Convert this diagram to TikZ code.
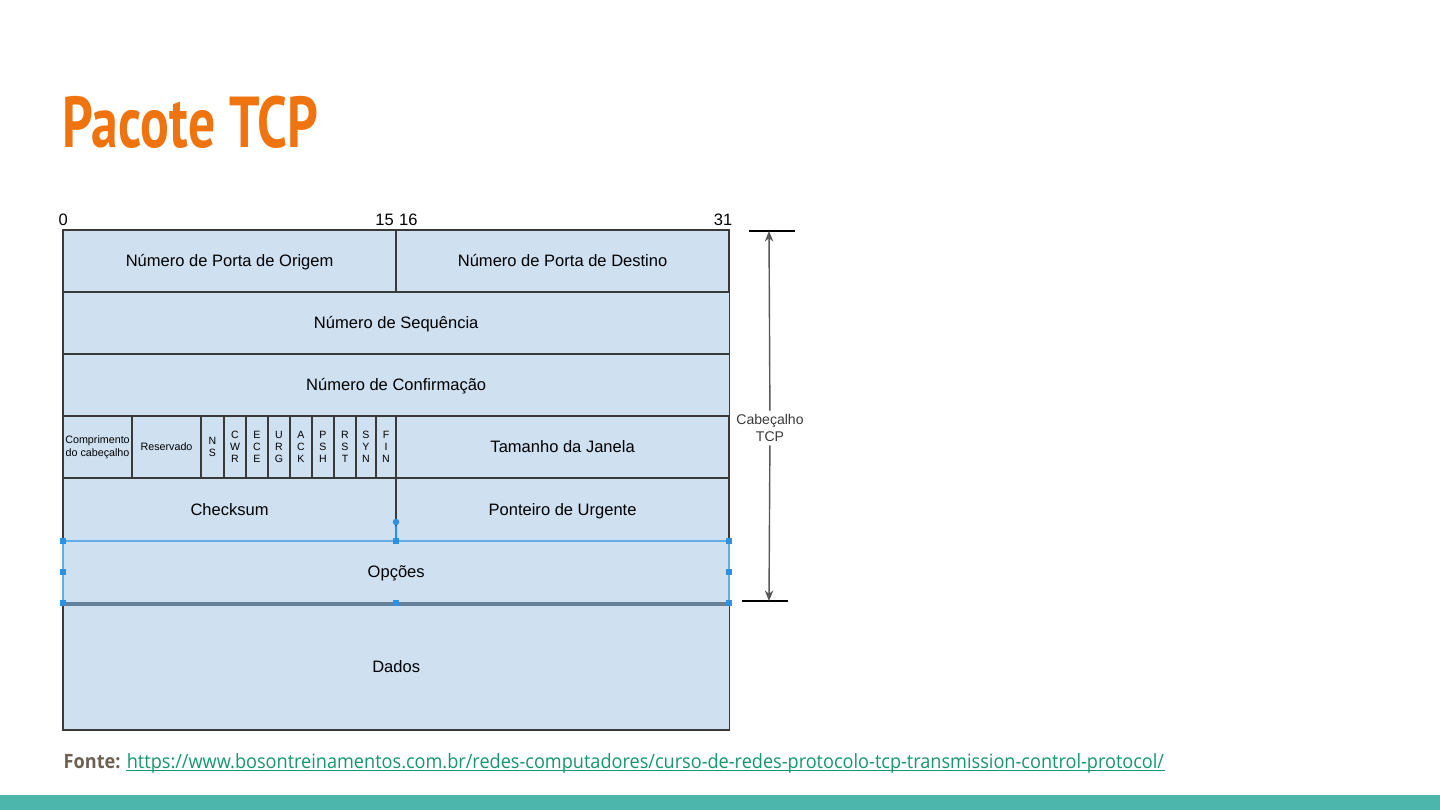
\documentclass[tikz,border=0pt]{standalone}
\usepackage{fontspec}
\setmainfont{Liberation Sans}
\newfontfamily\titulofont[FakeStretch=0.745]{PT Sans}
\newfontfamily\rodapefont[FakeStretch=0.92]{Open Sans}
\usepackage{tikz}
\usetikzlibrary{arrows.meta,positioning,calc}

\definecolor{laranja}{HTML}{EF7410}
\definecolor{celula}{HTML}{CFE0F1}
\definecolor{linha}{HTML}{3A3A3A}
\definecolor{selecao}{HTML}{2E90E0}
\definecolor{selbase}{HTML}{66809A}
\definecolor{turquesa}{HTML}{4DB6AC}
\definecolor{fonte}{HTML}{6D6152}
\definecolor{link}{HTML}{16966C}

\tikzset{
    campo/.style={draw=linha, fill=celula, line width=0.45pt, anchor=north west,
        inner sep=0pt, outer sep=0pt, text height=3.37pt, text depth=0pt,
        font=\fontsize{4.7}{5.5}\selectfont},
    campop/.style={campo, align=center, text height=, text depth=, font=\fontsize{3.05}{3.6}\selectfont},
    flagcel/.style={campo, align=center, text height=, text depth=, font=\fontsize{3.0}{3.42}\selectfont},
    bitnum/.style={inner sep=0pt, font=\fontsize{4.7}{5.5}\selectfont},
    alca/.style={fill=selecao, inner sep=0pt, minimum size=0.06cm},
}

\begin{document}
\begin{tikzpicture}[x=0.01cm, y=-0.01cm]
    \useasboundingbox (0,0) rectangle (1440,810);

    % Title
    \node[anchor=base west, inner sep=0pt, text=laranja, font=\fontsize{20.5}{24}\selectfont\titulofont\bfseries]
        (titulo) at (62,148) {Pacote TCP};

    % Bit numbers
    \node[bitnum, anchor=base west] (b0) at (58,226) {0};
    \node[bitnum, anchor=base east] (b15) at (394.5,226) {15};
    \node[bitnum, anchor=base west] (b16) at (398.5,226) {16};
    \node[bitnum, anchor=base east] (b31) at (733,226) {31};

    % Header fields
    \node[campo, minimum width=3.33cm, minimum height=0.62cm] (origem) at (63,230) {Número de Porta de Origem};
    \node[campo, minimum width=3.33cm, minimum height=0.62cm] (destino) at (396,230) {Número de Porta de Destino};
    \node[campo, minimum width=6.66cm, minimum height=0.62cm] (sequencia) at (63,292) {Número de Sequência};
    \node[campo, minimum width=6.66cm, minimum height=0.62cm] (confirmacao) at (63,354) {Número de Confirmação};
    \node[campop, minimum width=0.69cm, minimum height=0.62cm] (comprimento) at (63,416) {Comprimento\\do cabeçalho};
    \node[campop, minimum width=0.69cm, minimum height=0.62cm] (reservado) at (132,416) {Reservado};
    \foreach \x/\w/\t in {201/23/{N\\S}, 224/22/{C\\W\\R}, 246/22/{E\\C\\E}, 268/22/{U\\R\\G},
        290/22/{A\\C\\K}, 312/22/{P\\S\\H}, 334/22/{R\\S\\T}, 356/20/{S\\Y\\N}, 376/20/{F\\I\\N}}
        \node[flagcel, minimum width=\w*0.01cm, minimum height=0.62cm] (flag\x) at (\x,416) {\t};
    \node[campo, minimum width=3.33cm, minimum height=0.62cm] (janela) at (396,416) {Tamanho da Janela};
    \node[campo, minimum width=3.33cm, minimum height=0.63cm] (checksum) at (63,478) {Checksum};
    \node[campo, minimum width=3.33cm, minimum height=0.63cm] (urgente) at (396,478) {Ponteiro de Urgente};
    \node[campo, minimum width=6.66cm, minimum height=0.62cm] (opcoes) at (63,541) {Opções};
    \node[campo, minimum width=6.66cm, minimum height=1.27cm] (dados) at (63,603) {Dados};

    % Selection frame around Opcoes
    \draw[selecao!75, line width=0.6pt] (opcoes.north west) rectangle (opcoes.south east);
    \draw[selbase, line width=1.1pt] ($(opcoes.south west)+(0,1)$) -- ($(opcoes.south east)+(0,1)$);
    \node[alca, circle, minimum size=0.065cm] (rot) at (396,522) {};
    \draw[selecao, line width=0.6pt] (rot) -- (opcoes.north);
    \foreach \a in {north west, north, north east, west, east, south west, south, south east}
        \node[alca] at (opcoes.\a) {};

    % Header dimension
    \coordinate (topo) at (769,231);
    \coordinate (base) at (769,601);
    \draw[black, line width=0.5pt] (749,231) -- (795,231);
    \draw[black, line width=0.5pt] (742,601) -- (788,601);
    \node[align=center, inner sep=1pt, font=\fontsize{4.0}{4.6}\selectfont, text=linha] (cabecalho) at (770,428) {Cabeçalho\\TCP};
    \draw[linha!85, line width=0.4pt, -{Stealth[length=3pt,width=2.4pt]}] (cabecalho) -- (topo);
    \draw[linha!85, line width=0.4pt, -{Stealth[length=3pt,width=2.4pt]}] (cabecalho) -- (base);

    % Source
    \node[anchor=base west, inner sep=0pt, text=fonte, font=\fontsize{5.6}{6.5}\selectfont\rodapefont\bfseries] (fonte) at (63,768) {Fonte:};
    \node[anchor=base west, inner sep=0pt, text=link, font=\fontsize{5.6}{6.5}\selectfont\rodapefont] (url) at ([xshift=1.4pt]fonte.base east)
        {https://www.bosontreinamentos.com.br/redes-computadores/curso-de-redes-protocolo-tcp-transmission-control-protocol/};
    \draw[link, line width=0.35pt] ([yshift=-0.8pt]url.base west) -- ([yshift=-0.8pt]url.base east);

    % Bottom bar
    \fill[turquesa] (0,795) rectangle (1440,810);
\end{tikzpicture}
\end{document}
